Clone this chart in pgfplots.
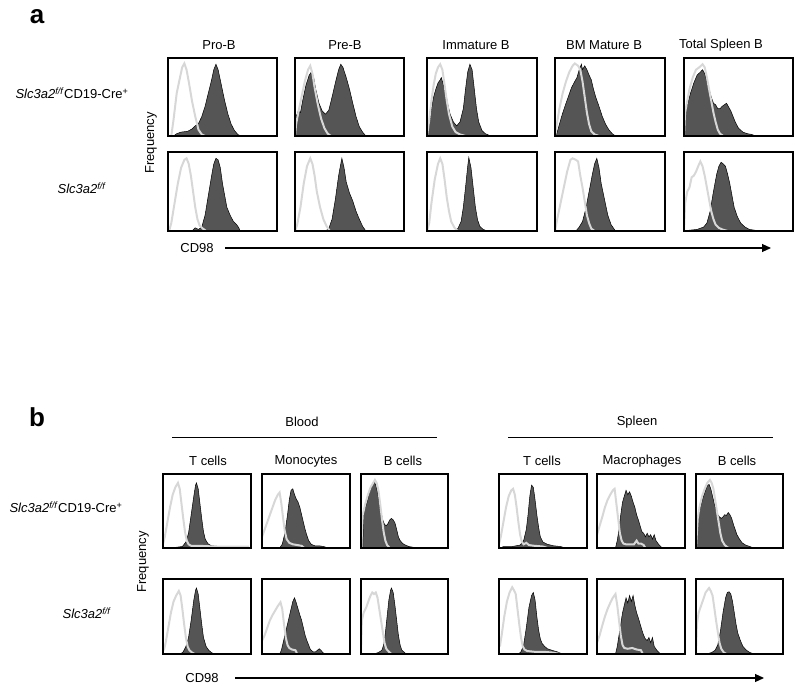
\documentclass[border=0pt]{standalone}
\usepackage{pgfplots}
\pgfplotsset{compat=1.18}
\usepackage{fontspec}
\setmainfont{Liberation Sans}
\usetikzlibrary{arrows.meta}
\definecolor{darkfill}{RGB}{85,85,85}
\definecolor{isoline}{RGB}{215,215,215}
\pgfplotsset{hbox/.style={scale only axis, xmin=0, xmax=100, ymin=0, ymax=100,
  xtick=\empty, ytick=\empty, axis line style={line width=1.8pt}, axis on top,
  anchor=north west}}
\newcommand{\hist}[6]{%
\begin{axis}[hbox, at={(#1pt,-#2pt)}, width=#3pt, height=#4pt]
\addplot[fill=darkfill, draw=black, line width=0.5pt] coordinates {#5} \closedcycle;
\addplot[isoline, line width=2pt] coordinates {#6};
\end{axis}}
\newcommand{\lab}{\fontsize{13}{15}\selectfont}
\newcommand{\crelabel}{\textit{Slc3a2}\textsuperscript{\textit{f/f}}CD19-Cre\textsuperscript{+}}
\newcommand{\fflabel}{\textit{Slc3a2}\textsuperscript{\textit{f/f}}}
\begin{document}
\begin{tikzpicture}
\useasboundingbox (0,0) rectangle (800pt,-690pt);
% ---------------- panel a ----------------
\node[font=\fontsize{26}{28}\selectfont\bfseries] at (37pt,-17pt) {a};
\node[font=\lab] at (219pt,-45pt) {Pro-B};
\node[font=\lab] at (345pt,-45pt) {Pre-B};
\node[font=\lab] at (476pt,-45pt) {Immature B};
\node[font=\lab] at (604pt,-45pt) {BM Mature B};
\node[font=\lab] at (721pt,-45pt) {Total Spleen B};
\node[font=\lab] at (72pt,-93pt) {\crelabel};
\node[font=\lab] at (82pt,-188pt) {\fflabel};
\node[font=\lab, rotate=90] at (151pt,-143pt) {Frequency};
\node[font=\lab] at (197pt,-248pt) {CD98};
\draw[line width=1.1pt, -{Triangle[length=9pt,width=8pt]}] (225pt,-248pt) -- (771pt,-248pt);
% row 1
\hist{168}{58}{109}{78}{(5,0)(8,3)(12,5)(18,6)(22,9)(25,13)(28,16)(31,25)(34,38)(37,55)(40,72)(42,85)(44,92)(46,85)(49,65)(52,45)(55,28)(58,15)(61,7)(64,2)(67,0)}
{(3,0)(5,20)(8,55)(11,75)(13,88)(15,93)(17,85)(19,70)(22,45)(25,25)(28,8)(31,2)(34,0)}
\hist{295}{58}{109}{78}{(0,0)(1,25)(3,32)(5,30)(7,45)(10,65)(13,78)(15,82)(17,76)(19,60)(22,42)(25,32)(28,28)(31,33)(34,50)(37,68)(40,85)(42,92)(44,88)(47,75)(50,60)(53,42)(56,25)(59,12)(62,5)(65,0)}
{(0,0)(1,15)(3,30)(6,50)(9,70)(12,85)(14,90)(16,80)(18,62)(21,40)(24,22)(27,10)(30,3)(33,0)}
\hist{427}{58}{110}{78}{(0,0)(2,15)(4,35)(6,50)(8,60)(10,68)(12,72)(13,75)(15,65)(17,55)(19,40)(21,28)(24,18)(27,13)(30,18)(33,35)(35,60)(37,82)(39,92)(41,85)(43,60)(45,35)(47,18)(50,7)(53,3)(58,0)}
{(0,0)(2,20)(4,45)(6,65)(8,80)(10,88)(12,92)(14,85)(16,65)(18,45)(20,28)(23,12)(26,5)(30,2)(35,0)}
\hist{555}{58}{110}{78}{(1,0)(3,10)(6,25)(9,38)(12,50)(15,62)(18,70)(20,75)(22,85)(24,92)(25,85)(27,90)(29,85)(31,78)(33,72)(35,60)(37,50)(40,38)(43,25)(46,15)(49,8)(52,3)(55,0)}
{(0,0)(2,18)(4,35)(7,55)(10,70)(13,82)(16,90)(18,93)(21,90)(23,85)(25,70)(27,50)(29,30)(31,15)(33,6)(36,2)(40,0)}
\hist{684}{58}{109}{78}{(0,0)(1,35)(3,40)(6,55)(9,68)(12,78)(15,82)(17,85)(19,80)(21,70)(23,60)(25,50)(27,42)(29,40)(31,35)(33,35)(35,38)(37,40)(39,42)(41,37)(43,32)(45,25)(47,18)(50,10)(54,5)(58,3)(62,2)(66,0)}
{(0,0)(1,30)(3,45)(5,60)(8,75)(11,85)(14,88)(17,92)(19,88)(21,75)(23,60)(25,45)(27,30)(29,18)(31,8)(33,3)(36,0)}
% row 2
\hist{168}{152}{109}{79}{(22,0)(25,4)(28,2)(31,5)(34,20)(37,45)(40,70)(42,85)(44,92)(46,90)(48,80)(50,60)(52,45)(54,30)(57,20)(60,12)(63,8)(65,4)(66,0)}
{(1,0)(3,10)(6,35)(9,60)(12,80)(15,90)(17,92)(19,85)(21,70)(23,50)(25,30)(27,15)(29,7)(32,3)(35,0)}
\hist{295}{152}{109}{79}{(28,0)(31,3)(34,15)(37,40)(40,70)(42,85)(43,92)(45,80)(47,62)(50,48)(53,38)(56,25)(59,15)(62,6)(65,0)}
{(0,0)(2,8)(5,30)(8,60)(11,82)(14,92)(16,85)(18,70)(20,50)(23,30)(26,15)(29,6)(32,0)}
\hist{427}{152}{110}{79}{(25,0)(28,3)(31,12)(33,30)(35,55)(37,82)(38,93)(40,80)(42,55)(44,30)(46,14)(48,6)(51,2)(55,0)}
{(0,0)(2,10)(4,35)(7,65)(10,85)(12,92)(14,85)(16,65)(18,42)(20,25)(22,12)(25,4)(28,0)}
\hist{555}{152}{110}{79}{(19,0)(22,5)(25,12)(28,28)(31,50)(34,72)(36,85)(38,92)(40,80)(42,60)(45,40)(48,20)(51,8)(55,0)}
{(0,0)(2,15)(5,35)(8,55)(11,75)(14,90)(16,92)(19,90)(21,88)(23,70)(25,55)(27,38)(29,20)(31,10)(33,3)(36,0)}
\hist{684}{152}{109}{79}{(1,0)(5,1)(12,2)(18,5)(21,10)(24,25)(27,50)(30,72)(32,82)(34,87)(36,85)(38,82)(40,72)(42,60)(44,45)(46,30)(49,18)(52,10)(56,5)(60,2)(65,1)(67,0)}
{(0,0)(1,35)(3,50)(5,55)(7,68)(9,70)(11,75)(13,82)(15,88)(17,82)(19,70)(21,55)(23,40)(25,25)(27,15)(29,8)(32,4)(35,2)(40,0)}
% ---------------- panel b ----------------
\node[font=\fontsize{26}{28}\selectfont\bfseries] at (37pt,-417pt) {b};
\node[font=\lab] at (302pt,-422pt) {Blood};
\node[font=\lab] at (637pt,-422pt) {Spleen};
\draw[line width=0.8pt] (172pt,-437pt) -- (437pt,-437pt);
\draw[line width=0.8pt] (508pt,-437pt) -- (773pt,-437pt);
\node[font=\lab] at (208pt,-461pt) {T cells};
\node[font=\lab] at (306pt,-461pt) {Monocytes};
\node[font=\lab] at (403pt,-461pt) {B cells};
\node[font=\lab] at (542pt,-461pt) {T cells};
\node[font=\lab] at (642pt,-461pt) {Macrophages};
\node[font=\lab] at (737pt,-461pt) {B cells};
\node[font=\lab] at (66pt,-507pt) {\crelabel};
\node[font=\lab] at (87pt,-613pt) {\fflabel};
\node[font=\lab, rotate=90] at (143pt,-562pt) {Frequency};
\node[font=\lab] at (202pt,-678pt) {CD98};
\draw[line width=1.1pt, -{Triangle[length=9pt,width=8pt]}] (235pt,-678pt) -- (764pt,-678pt);
% row 1
\hist{163}{474}{88}{74}{(10,0)(15,1)(22,2)(26,8)(29,20)(32,45)(35,70)(37,85)(38,88)(40,80)(42,60)(44,40)(46,22)(48,12)(51,6)(55,3)(65,2)(80,1)(90,0)}
{(0,5)(2,15)(5,35)(8,55)(11,72)(14,82)(17,88)(19,80)(21,60)(23,40)(25,22)(27,10)(29,5)(32,3)(40,3)(60,2)(80,2)(98,2)}
\hist{262}{474}{88}{74}{(20,0)(23,5)(26,20)(29,45)(31,65)(33,78)(35,80)(37,72)(39,66)(41,62)(43,55)(45,45)(47,35)(49,25)(51,17)(53,10)(56,5)(60,3)(65,3)(70,2)(75,0)}
{(0,15)(3,25)(6,35)(9,45)(12,55)(15,65)(18,72)(20,75)(22,60)(24,40)(26,22)(28,12)(31,7)(35,5)(40,4)(45,3)(48,0)}
\hist{361}{474}{87}{74}{(2,0)(3,52)(5,55)(7,62)(9,72)(11,80)(13,86)(15,90)(17,85)(19,75)(21,62)(23,48)(25,38)(27,32)(29,30)(31,33)(33,38)(35,40)(37,38)(39,34)(41,25)(43,15)(45,10)(48,6)(51,4)(55,2)(60,1)(62,0)}
{(0,0)(2,45)(5,60)(8,72)(11,82)(14,88)(16,92)(18,88)(20,78)(22,60)(24,40)(26,22)(28,10)(30,4)(33,0)}
\hist{499}{474}{88}{74}{(2,0)(5,2)(15,2)(24,4)(28,10)(31,25)(33,45)(35,70)(37,85)(39,82)(41,65)(43,45)(45,28)(47,15)(50,8)(55,5)(62,3)(70,2)(75,0)}
{(0,5)(2,15)(5,35)(8,55)(11,70)(14,78)(16,80)(18,72)(20,55)(22,35)(24,18)(26,8)(28,5)(31,7)(34,4)(40,3)(50,2)(55,0)}
\hist{597}{474}{88}{74}{(21,0)(23,10)(25,25)(27,45)(29,62)(31,70)(33,78)(35,72)(37,76)(39,70)(41,62)(43,55)(45,45)(47,38)(49,30)(51,22)(53,20)(55,15)(57,20)(59,15)(61,18)(63,12)(65,18)(67,10)(70,5)(74,0)}
{(0,18)(3,30)(6,42)(9,55)(12,65)(15,72)(18,78)(20,80)(22,60)(24,40)(26,20)(28,10)(30,6)(33,5)(38,5)(42,5)(45,10)(47,6)(50,6)(53,4)(55,0)}
\hist{696}{474}{87}{74}{(0,0)(1,40)(3,45)(5,55)(8,68)(11,78)(13,84)(15,86)(17,80)(19,70)(21,60)(23,52)(25,45)(27,42)(29,40)(31,42)(33,45)(35,44)(37,48)(39,45)(41,40)(43,32)(45,25)(47,18)(50,12)(53,7)(57,4)(62,2)(66,0)}
{(0,0)(2,40)(4,55)(7,70)(10,80)(13,88)(16,92)(18,88)(20,80)(22,65)(24,50)(26,35)(28,20)(30,10)(33,4)(36,1)(38,0)}
% row 2
\hist{163}{579}{88}{75}{(20,0)(23,3)(26,10)(29,22)(32,45)(35,72)(37,85)(38,88)(40,80)(42,60)(44,40)(46,22)(49,10)(52,5)(55,2)(58,0)}
{(1,5)(3,15)(6,35)(9,55)(12,70)(15,78)(18,84)(20,78)(22,60)(24,40)(26,22)(28,10)(30,5)(33,2)(36,0)}
\hist{262}{579}{88}{75}{(20,0)(22,5)(24,15)(27,30)(30,45)(33,60)(35,70)(37,75)(39,68)(41,60)(43,52)(45,45)(47,35)(49,25)(51,18)(53,12)(55,6)(58,3)(61,3)(63,5)(65,7)(67,5)(69,2)(72,0)}
{(0,18)(3,25)(6,35)(9,45)(12,52)(15,58)(18,64)(21,69)(23,60)(25,40)(27,22)(29,12)(31,8)(34,6)(38,5)(40,0)}
\hist{361}{579}{87}{75}{(15,0)(20,2)(24,5)(26,12)(28,28)(30,50)(32,72)(34,85)(35,88)(37,82)(39,65)(41,45)(43,25)(45,12)(47,5)(50,2)(52,0)}
{(0,0)(1,45)(3,55)(6,62)(9,72)(11,78)(13,82)(15,80)(17,82)(19,75)(21,60)(23,45)(25,30)(27,15)(29,7)(32,3)(35,0)}
\hist{499}{579}{88}{75}{(22,0)(25,3)(28,12)(31,35)(34,62)(37,78)(39,82)(41,72)(43,50)(45,32)(47,20)(49,14)(52,10)(55,7)(60,5)(66,3)(72,0)}
{(1,10)(3,25)(6,50)(9,70)(12,82)(15,89)(17,85)(19,80)(21,60)(23,40)(25,22)(27,10)(29,6)(32,4)(40,3)(50,3)(60,2)(70,0)}
\hist{597}{579}{88}{75}{(21,0)(23,10)(25,25)(27,40)(29,55)(31,65)(33,75)(35,68)(37,78)(39,70)(41,78)(43,65)(45,55)(47,48)(49,40)(51,32)(53,25)(55,20)(57,18)(59,22)(61,15)(63,22)(65,10)(68,5)(72,0)}
{(0,15)(3,25)(6,38)(9,50)(12,60)(15,68)(18,75)(21,80)(23,65)(25,45)(27,25)(29,12)(31,8)(35,7)(40,8)(45,6)(50,5)(52,0)}
\hist{696}{579}{87}{75}{(12,0)(18,2)(22,5)(25,12)(28,30)(31,55)(34,75)(36,82)(38,83)(40,80)(42,70)(44,55)(46,40)(48,28)(51,18)(54,10)(58,5)(62,2)(67,0)}
{(0,0)(1,40)(3,55)(6,65)(9,75)(11,82)(13,85)(15,88)(17,84)(19,78)(21,62)(23,45)(25,30)(27,15)(29,7)(32,2)(35,0)}
\end{tikzpicture}
\end{document}
